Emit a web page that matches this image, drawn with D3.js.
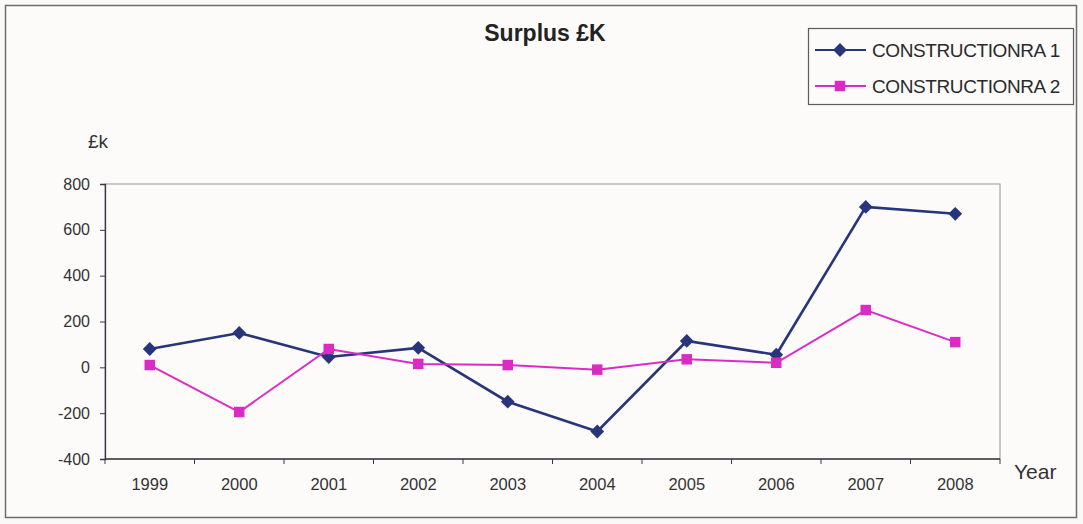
<!DOCTYPE html>
<html>
<head>
<meta charset="utf-8">
<script src="https://cdn.jsdelivr.net/npm/d3@7"></script>
<style>
  html, body { margin: 0; padding: 0; background: #fbf8f8; }
  svg { display: block; font-family: "Liberation Sans", Arial, sans-serif; }
</style>
</head>
<body>
<svg id="chart" width="1083" height="524"></svg>
<script>
// Surplus per year, £k
const years = ["1999", "2000", "2001", "2002", "2003", "2004", "2005", "2006", "2007", "2008"];
const seriesNames = ["CONSTRUCTIONRA 1", "CONSTRUCTIONRA 2"];
const ra1 = [80, 150, 45, 85, -150, -280, 115, 55, 700, 670];
const ra2 = [10, -195, 80, 15, 10, -10, 35, 20, 250, 110];
const yTicks = [-400, -200, 0, 200, 400, 600, 800];

const svg = d3.select("#chart");
const W = 1083, H = 524;
const plot = { left: 105, right: 1000, top: 184, bottom: 459 };

// outer chart frame
svg.append("rect")
  .attr("x", 5.5).attr("y", 5.5)
  .attr("width", W - 12).attr("height", H - 12)
  .attr("fill", "#fdfafa").attr("stroke", "#6f6b70").attr("stroke-width", 1.5);

const x = d3.scaleBand().domain(years).range([plot.left, plot.right]);
const y = d3.scaleLinear().domain([-400, 800]).range([plot.bottom, plot.top]);

// plot area border
svg.append("rect")
  .attr("x", plot.left).attr("y", plot.top)
  .attr("width", plot.right - plot.left).attr("height", plot.bottom - plot.top)
  .attr("fill", "none").attr("stroke", "#9a9498").attr("stroke-width", 1);

// y axis (plain hyphen for negatives)
const yAxis = svg.append("g")
  .attr("transform", `translate(${plot.left},0)`)
  .call(d3.axisLeft(y).tickValues(yTicks).tickSize(5).tickPadding(10).tickFormat(d => String(d)));
yAxis.select(".domain").attr("stroke", "#3a3a44").attr("stroke-width", 1.3);
yAxis.selectAll(".tick line").attr("stroke", "#3a3a44");
yAxis.selectAll("text").attr("font-size", 16).attr("fill", "#333")
  .attr("font-family", "'Liberation Sans', Arial, sans-serif");

// x axis: ticks sit between categories
const xAxis = svg.append("g")
  .attr("transform", `translate(0,${plot.bottom})`);
xAxis.append("line")
  .attr("x1", plot.left).attr("x2", plot.right)
  .attr("stroke", "#3a3a44").attr("stroke-width", 1.3);
const boundaries = years.map(d => x(d)).concat([plot.right]);
xAxis.selectAll("line.tk").data(boundaries).join("line").attr("class", "tk")
  .attr("x1", d => d).attr("x2", d => d).attr("y1", 0).attr("y2", 5)
  .attr("stroke", "#3a3a44");
xAxis.selectAll("text").data(years).join("text")
  .attr("x", d => x(d) + x.bandwidth() / 2)
  .attr("y", 31)
  .attr("text-anchor", "middle")
  .attr("font-size", 16.5).attr("fill", "#333")
  .text(d => d);

// axis titles
svg.append("text").attr("x", 88).attr("y", 148)
  .attr("font-size", 19).attr("fill", "#333").text("£k");
svg.append("text").attr("x", 1014).attr("y", 479)
  .attr("font-size", 21).attr("fill", "#333").text("Year");

// chart title
svg.append("text").attr("x", 545).attr("y", 41)
  .attr("text-anchor", "middle").attr("font-size", 23).attr("font-weight", "bold")
  .attr("fill", "#222").text("Surplus £K");

const colors = ["#27357a", "#da2cc4"];
// Diamond drawn as a square turned 45°
const diamond = d3.symbol().type(d3.symbolSquare).size(95);
const square = d3.symbol().type(d3.symbolSquare).size(110);
const shapes = [diamond, square];
const rot = [45, 0];

const line = d3.line()
  .x((d, i) => x(years[i]) + x.bandwidth() / 2)
  .y(d => y(d));

[ra1, ra2].forEach((vals, s) => {
  svg.append("path").datum(vals)
    .attr("d", line)
    .attr("fill", "none")
    .attr("stroke", colors[s])
    .attr("stroke-width", s === 0 ? 2.6 : 2);
  svg.append("g").selectAll("path").data(vals).join("path")
    .attr("transform", (d, i) => `translate(${x(years[i]) + x.bandwidth() / 2},${y(d)}) rotate(${rot[s]})`)
    .attr("d", shapes[s])
    .attr("fill", colors[s]);
});

// legend
const lg = svg.append("g").attr("transform", "translate(808,28)");
lg.append("rect").attr("x", 0.5).attr("y", 0.5).attr("width", 265).attr("height", 76)
  .attr("fill", "#fdfafa").attr("stroke", "#5e5a60").attr("stroke-width", 1.2);
seriesNames.forEach((name, s) => {
  const cy = 22 + s * 36;
  lg.append("line").attr("x1", 7).attr("x2", 58).attr("y1", cy).attr("y2", cy)
    .attr("stroke", colors[s]).attr("stroke-width", 2);
  lg.append("path").attr("transform", `translate(32,${cy}) rotate(${rot[s]})`)
    .attr("d", shapes[s]).attr("fill", colors[s]);
  lg.append("text").attr("x", 64).attr("y", cy + 7)
    .attr("font-size", 19).attr("letter-spacing", -0.4).attr("fill", "#2a2a2a")
    .text(name);
});
</script>
</body>
</html>
